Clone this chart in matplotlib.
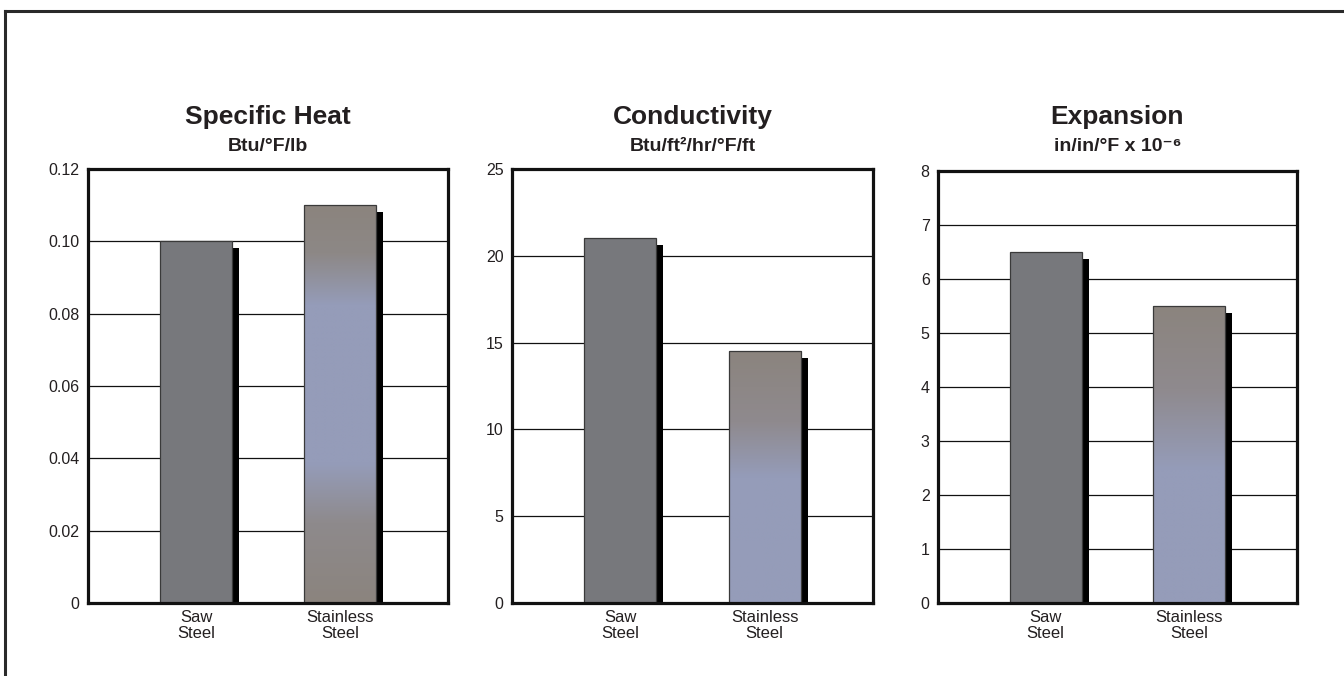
import numpy as np
import matplotlib
matplotlib.use("Agg")
import matplotlib.pyplot as plt
from matplotlib.colors import LinearSegmentedColormap
from matplotlib.transforms import ScaledTranslation
from matplotlib.lines import Line2D

plt.rcParams['font.family'] = ['Liberation Sans', 'DejaVu Sans']

# ---- data ----
categories = ["Saw\nSteel", "Stainless\nSteel"]
titles = ["Specific Heat", "Conductivity", "Expansion"]
subtitles = ["Btu/°F/lb", "Btu/ft²/hr/°F/ft", "in/in/°F x 10⁻⁶"]
specific_heat = [0.10, 0.11]
conductivity = [21.0, 14.5]
expansion = [6.5, 5.5]
series = [specific_heat, conductivity, expansion]
yticks_heat = [0, 0.02, 0.04, 0.06, 0.08, 0.10, 0.12]
yticklabels_heat = ["0", "0.02", "0.04", "0.06", "0.08", "0.10", "0.12"]
yticks_cond = [0, 5, 10, 15, 20, 25]
yticklabels_cond = ["0", "5", "10", "15", "20", "25"]
yticks_exp = [0, 1, 2, 3, 4, 5, 6, 7, 8]
yticklabels_exp = ["0", "1", "2", "3", "4", "5", "6", "7", "8"]
yticks = [yticks_heat, yticks_cond, yticks_exp]
yticklabels = [yticklabels_heat, yticklabels_cond, yticklabels_exp]

# ---- style ----
W, H, DPI = 1344, 676, 100
fig = plt.figure(figsize=(W / DPI, H / DPI), dpi=DPI)
TXT = "#231f20"
saw_color = "#77787c"
brown = "#8b847e"
blue = "#959cb9"
# gradient stops (bottom -> top of each stainless bar)
grad_stops = [
    [(0.0, brown), (0.2, "#8e8a8c"), (0.35, blue), (0.75, blue), (0.88, "#8d8886"), (1.0, brown)],
    [(0.0, blue), (0.5, blue), (0.72, "#8f8a8e"), (1.0, brown)],
    [(0.0, blue), (0.45, blue), (0.72, "#8f8a8e"), (1.0, brown)],
]

# axes pixel boxes: left, right, top, bottom
boxes = [(88, 448, 169, 603), (512, 873, 169, 603), (938, 1297, 171, 603)]

def px(l, r, t, b):
    return [l / W, 1 - b / H, (r - l) / W, (b - t) / H]

# outer frame lines (top and left)
fig.add_artist(Line2D([5 / W, 1.0], [1 - 11 / H, 1 - 11 / H], transform=fig.transFigure,
                      color="#2a2a2a", lw=2.2))
fig.add_artist(Line2D([5 / W, 5 / W], [0.0, 1 - 11 / H], transform=fig.transFigure,
                      color="#2a2a2a", lw=2.2))

shadow_off = ScaledTranslation(7 / DPI, -7 / DPI, fig.dpi_scale_trans)

for i in range(3):
    ax = fig.add_axes(px(*boxes[i]))
    vals = series[i]
    x = np.arange(len(categories))
    ax.set_xlim(-0.75, 1.75)
    ax.set_ylim(yticks[i][0], yticks[i][-1])
    ax.set_yticks(yticks[i])
    ax.set_yticklabels(yticklabels[i], fontsize=11.5, color=TXT)
    ax.set_xticks(x)
    ax.set_xticklabels(categories, fontsize=12, color=TXT, linespacing=1.1)
    ax.tick_params(length=0, pad=6)
    ax.tick_params(axis="x", pad=5)
    for s in ax.spines.values():
        s.set_linewidth(2.3)
        s.set_color("#111111")
        s.set_zorder(5)
    ax.grid(axis="y", color="#111111", lw=0.9, zorder=0)
    ax.set_axisbelow(True)

    # shadows
    ax.bar(x, vals, width=0.5, color="black", zorder=1,
           transform=ax.transData + shadow_off)
    bars = ax.bar(x, vals, width=0.5, color=[saw_color, "none"],
                  edgecolor="#3a3a3a", linewidth=0.9, zorder=3)
    # gradient fill for stainless bar
    b = bars[1]
    x0, y0, bw, bh = b.get_x(), b.get_y(), b.get_width(), b.get_height()
    cmap = LinearSegmentedColormap.from_list("ss%d" % i, grad_stops[i])
    grad = np.linspace(0, 1, 256).reshape(-1, 1)
    im = ax.imshow(grad, cmap=cmap, origin="lower", aspect="auto",
                   extent=(x0, x0 + bw, y0, y0 + bh), zorder=2, interpolation="bilinear")
    im.set_clip_path(b)
    ax.set_xlim(-0.75, 1.75)
    ax.set_ylim(yticks[i][0], yticks[i][-1])

    # titles
    l, r, t, bt = boxes[i]
    cx = (l + r) / 2 / W
    fig.text(cx, 1 - 124 / H, titles[i], ha="center", va="baseline",
             fontsize=19, fontweight="bold", color=TXT)
    fig.text(cx, 1 - 151 / H, subtitles[i], ha="center", va="baseline",
             fontsize=14, fontweight="bold", color=TXT)

fig.savefig("out.png", dpi=DPI)
